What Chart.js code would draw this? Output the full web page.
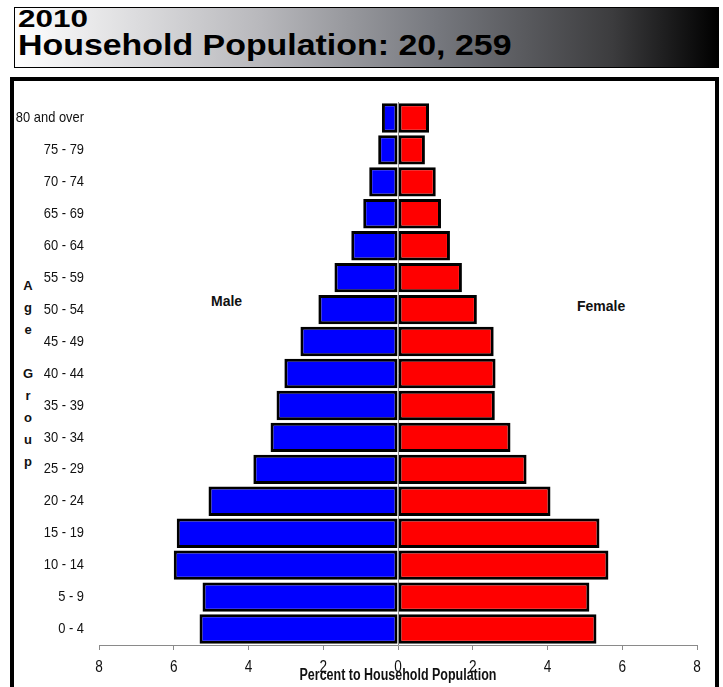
<!DOCTYPE html>
<html>
<head>
<meta charset="utf-8">
<script src="https://cdn.jsdelivr.net/npm/chart.js@4"></script>
<style>
  body { margin: 0; width: 723px; height: 687px; overflow: hidden; background: #fff; position: relative; font-family: "Liberation Sans", Arial, sans-serif; }
  #titleBox { position: absolute; left: 14px; top: 7px; width: 703px; height: 59px; border: 1px solid #000;
    background: linear-gradient(to right, #fff 0%, #b8b8bc 35%, #76787e 60%, #3c3c3e 85%, #000 100%); }
  #titleBox div { position: absolute; left: 3px; font-weight: bold; color: #000; line-height: 1; transform-origin: 0 0; white-space: nowrap; }
  #chartBox { position: absolute; left: 10px; top: 77px; width: 701px; height: 700px; border: 4px solid #000; }
  .lbl { position: absolute; font-weight: bold; font-size: 14px; color: #111; }
  canvas { position: absolute; left: 0; top: 0; }
</style>
</head>
<body>
<div id="titleBox">
  <div style="top: -1px; font-size: 24px; transform: scaleX(1.31);">2010</div>
  <div style="top: 22px; font-size: 30px; transform: scaleX(1.13);">Household Population: 20, 259</div>
</div>
<div id="chartBox"></div>
<div class="lbl" style="left: 211px; top: 293px;">Male</div>
<div class="lbl" style="left: 577px; top: 298px;">Female</div>
<div class="lbl" id="ageGroup" style="left: 21px; top: 275px; width: 14px; font-size: 13px; text-align: center; line-height: 22px;"></div>
<canvas id="pyramid" width="723" height="687"></canvas>
<script>
// age groups, top to bottom
const ageGroups = ["80 and over", "75 - 79", "70 - 74", "65 - 69", "60 - 64", "55 - 59", "50 - 54",
  "45 - 49", "40 - 44", "35 - 39", "30 - 34", "25 - 29", "20 - 24", "15 - 19", "10 - 14", "5 - 9", "0 - 4"];
// percent of household population
const malePct = [0.43, 0.53, 0.77, 0.93, 1.25, 1.70, 2.13, 2.61, 3.04, 3.25, 3.41, 3.87, 5.07, 5.92, 6.00, 5.23, 5.31];
const femalePct = [0.83, 0.72, 1.01, 1.15, 1.39, 1.71, 2.11, 2.56, 2.61, 2.59, 3.01, 3.44, 4.08, 5.39, 5.63, 5.12, 5.31];
const xTicks = [-8, -6, -4, -2, 0, 2, 4, 6, 8];
const xTitle = "Percent to Household Population";

document.getElementById("ageGroup").innerHTML = "A<br>g<br>e<br><br>G<br>r<br>o<br>u<br>p";

// squeeze text horizontally, the original uses a narrow font
function drawNarrow(ctx, text, px, py, sx) {
  ctx.save();
  ctx.translate(px, py);
  ctx.scale(sx, 1);
  ctx.fillText(text, 0, 0);
  ctx.restore();
}

const narrowLabels = {
  id: "narrowLabels",
  afterDraw(chart) {
    const { ctx, chartArea } = chart;
    const x = chart.scales.x;
    const y = chart.scales.y;
    ctx.save();
    ctx.fillStyle = "#111";

    // age group labels
    ctx.font = "15px 'Liberation Sans', Arial, sans-serif";
    ctx.textAlign = "right";
    ctx.textBaseline = "middle";
    ageGroups.forEach((g, i) => drawNarrow(ctx, g, y.right - 15, y.getPixelForTick(i), 0.86));

    // percent ticks
    ctx.font = "16px 'Liberation Sans', Arial, sans-serif";
    ctx.textAlign = "center";
    ctx.textBaseline = "alphabetic";
    xTicks.forEach(v => drawNarrow(ctx, String(Math.abs(v)), x.getPixelForValue(v), x.top + 27, 0.85));

    // axis title
    ctx.font = "bold 16px 'Liberation Sans', Arial, sans-serif";
    drawNarrow(ctx, xTitle, (chartArea.left + chartArea.right) / 2, x.top + 35, 0.78);
    ctx.restore();
  },
};

new Chart(document.getElementById("pyramid"), {
  type: "bar",
  data: {
    labels: ageGroups,
    datasets: [
      {
        label: "Male",
        data: malePct.map(v => -v),
        backgroundColor: "#0000ff",
        borderColor: "#000",
        borderWidth: 3,
        borderSkipped: false,
      },
      {
        label: "Female",
        data: femalePct,
        backgroundColor: "#ff0000",
        borderColor: "#000",
        borderWidth: 3,
        borderSkipped: false,
      },
    ],
  },
  options: {
    indexAxis: "y",
    responsive: false,
    animation: false,
    layout: { padding: { left: 0, right: 26, top: 102, bottom: 0 } },
    plugins: { legend: { display: false }, tooltip: { enabled: false } },
    datasets: { bar: { categoryPercentage: 1, barPercentage: 0.92 } },
    scales: {
      x: {
        stacked: true,
        min: -8,
        max: 8,
        afterBuildTicks: (scale) => { scale.ticks = xTicks.map(v => ({ value: v })); },
        afterFit: (scale) => { scale.height = 42; },
        border: { display: true, color: "#8a8a8a", width: 1, z: 1 },
        grid: {
          color: (ctx) => (ctx.tick && ctx.tick.value === 0 ? "#8a8a8a" : "rgba(0,0,0,0)"),
          tickColor: "#8a8a8a",
          tickLength: 5,
          z: 1,
        },
        ticks: { display: false },
      },
      y: {
        stacked: true,
        afterFit: (scale) => { scale.width = 99; },
        border: { display: false },
        grid: { display: false, drawTicks: false },
        ticks: { display: false },
      },
    },
  },
  plugins: [narrowLabels],
});
</script>
</body>
</html>
